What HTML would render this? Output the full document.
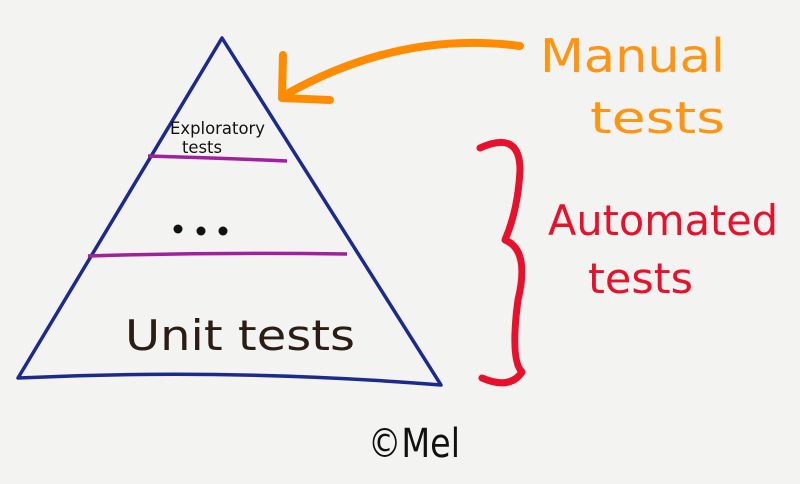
<!DOCTYPE html>
<html><head><meta charset="utf-8"><style>
html,body{margin:0;padding:0;width:800px;height:484px;overflow:hidden;background:#f3f3f2}
svg{display:block}
text{font-family:"DejaVu Sans","Liberation Sans",sans-serif}
</style></head><body>
<svg width="800" height="484" viewBox="0 0 800 484" xmlns="http://www.w3.org/2000/svg">
<rect width="800" height="484" fill="#f3f3f2"/>
<path d="M222 38 L18 378 Q230 368 441 385 Z" fill="none" stroke="#1b2a8c" stroke-width="3.5" stroke-linejoin="round"/>
<path d="M148 156 Q218 158 287 161" stroke="#a0209e" stroke-width="3.5" fill="none"/>
<path d="M88 256 Q218 252 347 254" stroke="#a0209e" stroke-width="3.5" fill="none"/>
<text x="170" y="134" font-size="17" fill="#111" textLength="95" lengthAdjust="spacingAndGlyphs">Exploratory</text>
<text x="182" y="153" font-size="17" fill="#111" textLength="40" lengthAdjust="spacingAndGlyphs">tests</text>
<circle cx="178" cy="229" r="4.5" fill="#111"/><circle cx="201" cy="231" r="4.5" fill="#111"/><circle cx="223" cy="231" r="4.5" fill="#111"/>
<text x="240" y="350" font-size="42" text-anchor="middle" fill="#2b1d14" textLength="230" lengthAdjust="spacingAndGlyphs">Unit tests</text>
<path d="M520 46 Q400 30 285 95" stroke="#ff8c00" stroke-width="8" fill="none" stroke-linecap="round"/>
<path d="M283 55 L282 98 L330 100" stroke="#ff8c00" stroke-width="8" fill="none" stroke-linecap="round" stroke-linejoin="round"/>
<text x="540" y="72" font-size="46" fill="#ff9410" textLength="185" lengthAdjust="spacingAndGlyphs">Manual</text>
<text x="590" y="133" font-size="44" fill="#ff9410" textLength="135" lengthAdjust="spacingAndGlyphs">tests</text>
<path d="M480 148 Q520 130 520 170 Q518 210 505 240 Q530 250 518 300 Q510 360 522 372 Q510 390 482 378" stroke="#e8102a" stroke-width="7" fill="none" stroke-linecap="round" stroke-linejoin="round"/>
<text x="548" y="235" font-size="42" fill="#e8102a" textLength="230" lengthAdjust="spacingAndGlyphs">Automated</text>
<text x="588" y="293" font-size="42" fill="#e8102a" textLength="105" lengthAdjust="spacingAndGlyphs">tests</text>
<text x="368" y="457" font-size="40" fill="#111" textLength="92" lengthAdjust="spacingAndGlyphs">©Mel</text>
</svg>
</body></html>
